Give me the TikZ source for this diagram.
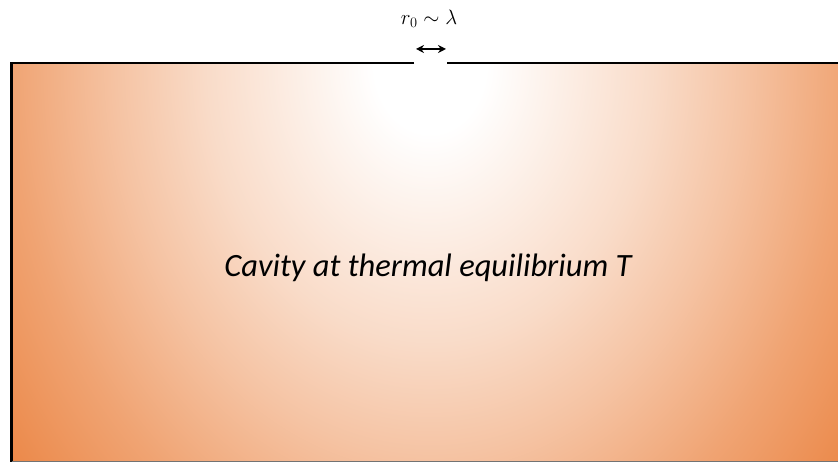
\documentclass[tikz,border=0pt]{standalone}
\usepackage{fontspec}
\newfontfamily\cavfont{Carlito}
\usepackage{xcolor}
\definecolor{cavorange}{RGB}{234,128,60}
\usetikzlibrary{arrows.meta,positioning}
\pgfdeclareradialshading{cavityglow}{\pgfpoint{0bp}{0bp}}{color(0bp)=(white); color(2.5bp)=(white); color(10bp)=(cavorange!28!white); color(14bp)=(cavorange!47!white); color(18.75bp)=(cavorange!72!white); color(21bp)=(cavorange!82!white); color(25bp)=(cavorange); color(50bp)=(cavorange)}

\begin{document}
\begin{tikzpicture}[x=1pt,y=1pt,
  wall/.style={line width=2.4pt, black},
  gaparrow/.style={{Stealth[length=8pt,width=8pt]}-{Stealth[length=8pt,width=8pt]}, line width=1.8pt}]
  \useasboundingbox (0,0) rectangle (838,462);
  \clip (0,0) rectangle (838,462);

  % Cavity interior, brightest under the opening
  \begin{scope}
    \clip (11.5,0) rectangle (850,399);
    \shade[shading=cavityglow] (430,399) ellipse [x radius=560, y radius=700];
  \end{scope}

  % Walls with the small opening
  \coordinate (gapl) at (414,399);
  \coordinate (gapr) at (447,399);
  \draw[wall] (gapl) -- (11.5,399) -- (11.5,0);
  \draw[wall] (gapr) -- (850,399);
  \draw[line width=1.4pt, black!55] (11.5,0.7) -- (850,0.7);

  % Size of the opening
  \coordinate (openl) at (416,413);
  \coordinate (openr) at (446,413);
  \draw[gaparrow] (openl) -- (openr);
  \node[font=\fontsize{22}{26}\selectfont] (size) at (429,443) {$r_0\sim\lambda$};

  % Label
  \node[font=\cavfont\itshape\fontsize{32.5}{38}\selectfont] (label) at (428,194) {Cavity at thermal equilibrium T};
\end{tikzpicture}
\end{document}
